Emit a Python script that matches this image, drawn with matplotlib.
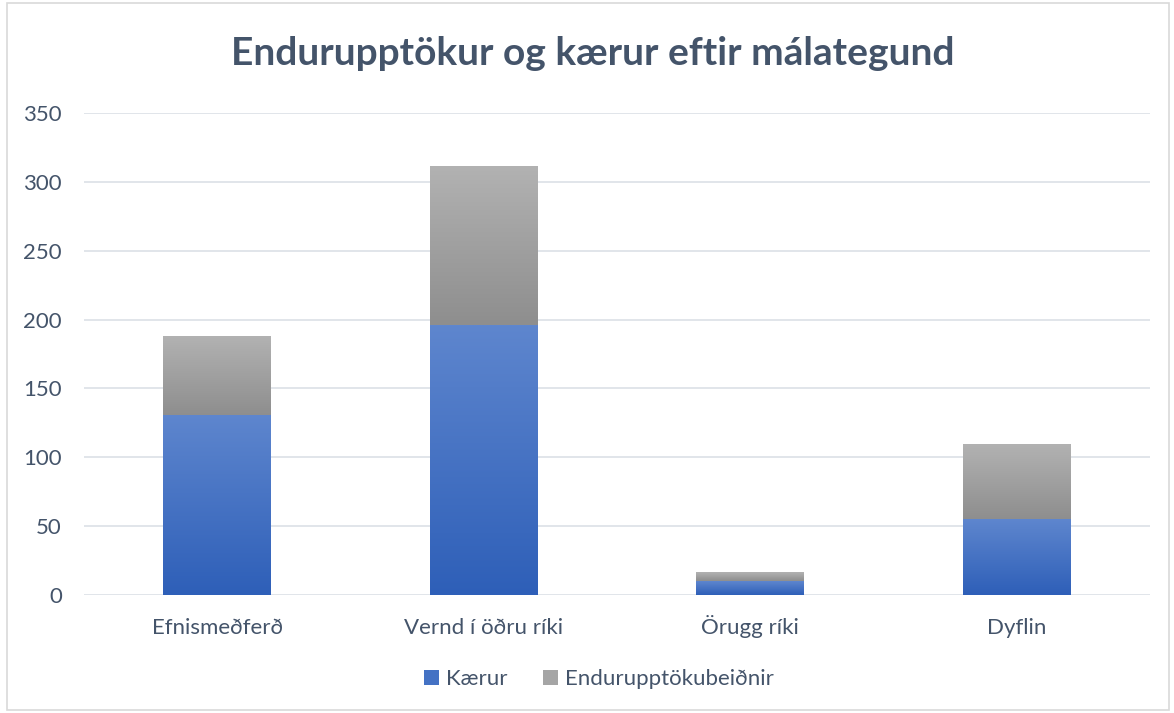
import numpy as np
import matplotlib.pyplot as plt
from matplotlib.colors import LinearSegmentedColormap
from matplotlib.patches import Rectangle

plt.rcParams['font.family'] = ['Lato', 'DejaVu Sans']

categories = ['Efnismeðferð', 'Vernd í öðru ríki', 'Örugg ríki', 'Dyflin']
kaerur = [131, 196, 10, 55]
endurupptokur = [57, 115, 6, 54]
series_names = ['Kærur', 'Endurupptökubeiðnir']

txt = '#44546A'
grid_c = '#E1E5EA'

fig = plt.figure(figsize=(11.74, 7.13), dpi=100)
ax = fig.add_axes([0.0716, 0.1655, 0.908, 0.676])

x = np.arange(len(categories))
w = 0.405
b1 = ax.bar(x, kaerur, w, color='#4472C4', label=series_names[0], zorder=2)
b2 = ax.bar(x, endurupptokur, w, bottom=kaerur, color='#A5A5A5',
            label=series_names[1], zorder=2)

# gradient fill, light at top and dark at bottom of each segment
blue = LinearSegmentedColormap.from_list('b', ['#2E5FB8', '#5E86CE'])
gray = LinearSegmentedColormap.from_list('g', ['#8E8E8E', '#B2B2B2'])
grad = np.linspace(0, 1, 256).reshape(-1, 1)
for bars, cm in ((b1, blue), (b2, gray)):
    for p in bars:
        x0, y0 = p.get_x(), p.get_y()
        ax.imshow(grad, extent=[x0, x0 + p.get_width(), y0, y0 + p.get_height()],
                  origin='lower', cmap=cm, aspect='auto', zorder=3)

ax.set_xlim(-0.5, len(categories) - 0.5)
ax.set_ylim(0, 350)
ax.set_yticks(range(0, 351, 50))
ax.set_xticks(x)
ax.set_xticklabels(categories, va='baseline')
ax.grid(axis='y', color=grid_c, linewidth=1.4, zorder=0)
for s in ax.spines.values():
    s.set_visible(False)
ax.tick_params(axis='both', length=0, labelsize=16, labelcolor=txt)
ax.tick_params(axis='y', pad=16)
ax.tick_params(axis='x', pad=28)

fig.text(0.505, 0.909, 'Endurupptökur og kærur eftir málategund', ha='center',
         va='baseline', fontsize=28, fontweight='bold', color=txt)

leg = fig.legend(handles=[b1, b2], loc='center', bbox_to_anchor=(0.51, 0.047),
                 ncol=2, frameon=False, fontsize=16, handlelength=0.7,
                 handleheight=0.7, columnspacing=1.6, handletextpad=0.3)
for t in leg.get_texts():
    t.set_color(txt)

fig.patches.append(Rectangle((0.006, 0.004), 0.99, 0.992, transform=fig.transFigure,
                             fill=False, edgecolor='#D9D9D9', linewidth=1.2))

fig.savefig('out.png', dpi=100)
